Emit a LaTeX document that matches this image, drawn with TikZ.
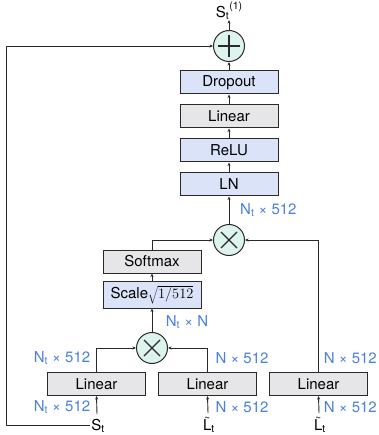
\documentclass[tikz,border=0pt]{standalone}
\usepackage{fontspec}
\setmainfont{TeX Gyre Heros}
\usetikzlibrary{arrows.meta}
\definecolor{bluebox}{HTML}{DAE3F8}
\definecolor{graybox}{HTML}{E6E6E8}
\definecolor{opfill}{HTML}{DDF3EE}
\definecolor{dimblue}{HTML}{4A80E0}
\definecolor{edge}{HTML}{2A2A2A}
\newcommand{\tildeL}{\setbox0\hbox{L}\rlap{\hbox to\wd0{\hss\raisebox{8.5pt}{\fontsize{10}{10}\selectfont\char"7E}\hss}}L}
\tikzset{
  every node/.style={font=\fontsize{15}{17}\selectfont, inner sep=0pt},
  layer/.style={draw=edge, line width=1pt, minimum width=98pt, minimum height=23pt},
  bluelayer/.style={layer, fill=bluebox},
  graylayer/.style={layer, fill=graybox},
  opnode/.style={circle, draw=edge, line width=1pt, fill=opfill, minimum size=31pt},
  plusop/.style={opnode, path picture={
      \draw[edge, line width=1.1pt] ([xshift=-11pt]path picture bounding box.center) -- ([xshift=11pt]path picture bounding box.center);
      \draw[edge, line width=1.1pt] ([yshift=-11pt]path picture bounding box.center) -- ([yshift=11pt]path picture bounding box.center);}},
  timesop/.style={opnode, path picture={
      \draw[edge, line width=1.1pt] ([shift={(-8pt,-8pt)}]path picture bounding box.center) -- ([shift={(8pt,8pt)}]path picture bounding box.center);
      \draw[edge, line width=1.1pt] ([shift={(-8pt,8pt)}]path picture bounding box.center) -- ([shift={(8pt,-8pt)}]path picture bounding box.center);}},
  dim/.style={text=dimblue},
  conn/.style={draw=edge, line width=0.9pt, -{Stealth[length=3.5pt,width=3pt]}},
  plain/.style={draw=edge, line width=0.9pt},
}
\begin{document}
\begin{tikzpicture}[x=1pt,y=-1pt]
\useasboundingbox (0,0) rectangle (378,435);
% top stack
\node (out) at (229,11) {S$_{\mathrm t}$\raisebox{1.0ex}{\fontsize{10.5}{11}\selectfont(1)}};
\node[plusop] (plus) at (229,46) {};
\node[bluelayer] (drop) at (229,82.5) {Dropout};
\node[graylayer] (lin4) at (229,116.5) {Linear};
\node[bluelayer] (relu) at (229,150.5) {ReLU};
\node[bluelayer] (ln) at (229,184.5) {LN};
\node[timesop] (mul2) at (229,240) {};
\node[dim, anchor=west] (d1) at (240,210) {N$_{\mathrm t}$ × 512};
% attention
\node[graylayer] (soft) at (152,261.5) {Softmax};
\node[bluelayer, minimum height=27pt] (scale) at (152,294.5) {Scale$\sqrt{1/512}$};
\node[dim] (d2) at (187,322) {N$_{\mathrm t}$ × N};
\node[timesop] (mul1) at (152,348) {};
\node[graylayer] (lin1) at (96.5,384) {Linear};
\node[graylayer] (lin2) at (207.5,384) {Linear};
\node[graylayer] (lin3) at (318.5,384) {Linear};
% dims
\node[dim] (d3) at (62,358) {N$_{\mathrm t}$ × 512};
\node[dim] (d4) at (242,358) {N × 512};
\node[dim, anchor=east] (d5) at (377,358) {N × 512};
\node[dim] (d6) at (62,407) {N$_{\mathrm t}$ × 512};
\node[dim] (d7) at (242,407) {N × 512};
\node[dim, anchor=east] (d8) at (377,407) {N × 512};
% inputs
\node[anchor=base] (st) at (98,430) {S$_{\mathrm t}$};
\node[anchor=base] (lt1) at (209,430) {\tildeL$_{\mathrm t}$};
\node[anchor=base] (lt2) at (320,430) {\tildeL$_{\mathrm t}$};
\coordinate (stin) at (97,414);
\coordinate (lt1in) at (208,413);
\coordinate (lt2in) at (319,413);
\coordinate (skipbl) at (6,425);
\coordinate (skiptl) at (6,46);
% connections
\draw[conn] (plus.north) -- (out.south);
\draw[conn] (drop.north) -- (plus.south);
\draw[conn] (lin4.north) -- (drop.south);
\draw[conn] (relu.north) -- (lin4.south);
\draw[conn] (ln.north) -- (relu.south);
\draw[conn] (mul2.north) -- (ln.south);
\draw[conn] (soft.north) |- (mul2.west);
\draw[conn] (lin3.north) |- (mul2.east);
\draw[conn] (scale.north) -- (soft.south);
\draw[conn] (mul1.north) -- (scale.south);
\draw[conn] (lin1.north) |- (mul1.west);
\draw[conn] (lin2.north) |- (mul1.east);
\draw[conn] (stin) -- (lin1.south);
\draw[conn] (lt1in) -- (lin2.south);
\draw[conn] (lt2in) -- (lin3.south);
\draw[plain] ([xshift=-1.5pt]st.west |- skipbl) -- (skipbl) -- (skiptl);
\draw[conn] (skiptl) -- (plus.west);
\end{tikzpicture}
\end{document}
